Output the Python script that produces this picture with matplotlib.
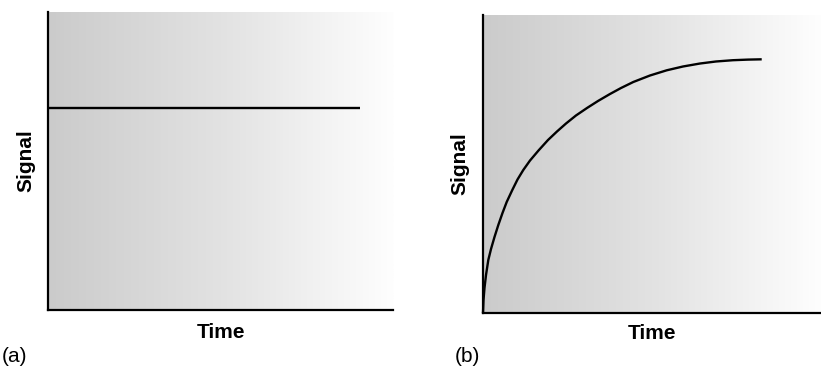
"""Two schematic signal-vs-time panels on a grey-to-white gradient."""

import matplotlib.pyplot as plt
import numpy as np
from matplotlib.colors import LinearSegmentedColormap

# panel (a): constant signal
FLAT_TIME = [0.0, 90.5]
FLAT_SIGNAL = [67.8, 67.8]

# panel (b): rising, saturating signal
RISE_TIME = [0.0, 0.15, 0.44, 0.89, 1.57, 2.37, 3.40, 4.53, 5.77, 7.01,
             8.67, 10.21, 11.92, 13.91, 16.42, 19.23, 21.89, 24.56, 27.51,
             30.77, 34.02, 37.57, 40.83, 44.47, 49.41, 54.35, 59.17, 64.20,
             68.93, 73.96, 78.40, 82.46]
RISE_SIGNAL = [0.0, 4.36, 8.39, 12.75, 17.79, 21.48, 25.50, 29.53, 33.56,
               37.25, 41.28, 44.80, 47.99, 51.17, 54.53, 58.05, 60.91, 63.59,
               66.28, 68.79, 71.14, 73.49, 75.50, 77.52, 79.70, 81.44, 82.72,
               83.72, 84.40, 84.83, 85.03, 85.13]

PANEL_TAGS = ["(a)", "(b)"]

FONT_SIZE = 15
LINE_W = 1.7

plt.rcParams["font.family"] = ["Liberation Sans", "DejaVu Sans"]

BG_CMAP = LinearSegmentedColormap.from_list("bg", ["#cbcbcb", "#e2e2e2", "#fefefe"])


def style_axes(ax, xpad, ypad):
    grad = np.linspace(0, 1, 256).reshape(1, -1)
    ax.imshow(grad, extent=[0, 1, 0, 1], transform=ax.transAxes,
              aspect="auto", cmap=BG_CMAP, zorder=0)
    ax.set_xlim(0, 100)
    ax.set_ylim(0, 100)
    ax.set_xticks([])
    ax.set_yticks([])
    for side in ("top", "right"):
        ax.spines[side].set_visible(False)
    for side in ("left", "bottom"):
        ax.spines[side].set_linewidth(1.6)
    ax.set_xlabel("Time", fontsize=FONT_SIZE, fontweight="bold", labelpad=xpad)
    ax.set_ylabel("Signal", fontsize=FONT_SIZE, fontweight="bold", labelpad=ypad)


fig = plt.figure(figsize=(8.21, 3.75), dpi=100)
ax_a = fig.add_axes([48 / 821, 1 - 310 / 375, (393 - 48) / 821, (310 - 12) / 375])
ax_b = fig.add_axes([483 / 821, 1 - 313 / 375, (821 - 483) / 821, (313 - 15) / 375])

style_axes(ax_a, 9, 9)
ax_a.plot(FLAT_TIME, FLAT_SIGNAL, color="black", linewidth=LINE_W, zorder=3,
          solid_capstyle="butt")

style_axes(ax_b, 8, 9.7)
ax_b.plot(RISE_TIME, RISE_SIGNAL, color="black", linewidth=LINE_W, zorder=3,
          solid_capstyle="butt", solid_joinstyle="round", clip_on=False)

fig.text(2 / 821, 1 - 357 / 375, PANEL_TAGS[0], fontsize=FONT_SIZE, va="center", ha="left")
fig.text(455 / 821, 1 - 357 / 375, PANEL_TAGS[1], fontsize=FONT_SIZE, va="center", ha="left")

fig.savefig("out.png", dpi=100)
